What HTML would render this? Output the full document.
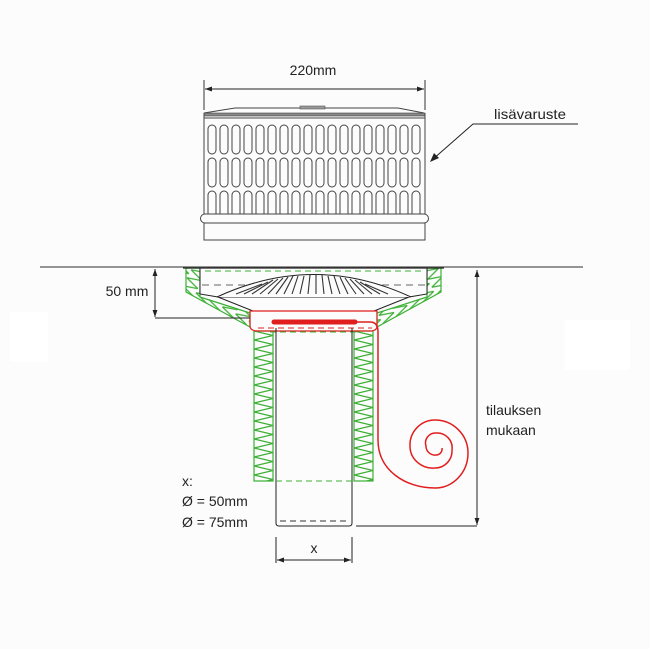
<!DOCTYPE html>
<html><head><meta charset="utf-8"><style>
html,body{margin:0;padding:0;background:#fcfcfd;}
svg{display:block;font-family:"Liberation Sans",sans-serif;}
</style></head><body>
<svg width="650" height="649" viewBox="0 0 650 649" xmlns="http://www.w3.org/2000/svg">
<defs>
<marker id="ar" viewBox="0 0 10 10" refX="10" refY="5" markerWidth="7" markerHeight="7" orient="auto-start-reverse"><path d="M0,1.5 L10,5 L0,8.5 z" fill="#222"/></marker>
<pattern id="zl" patternUnits="userSpaceOnUse" x="254" y="331" width="19" height="9"><path d="M0,0 L19,4.5 L0,9" fill="none" stroke="#3cb034" stroke-width="1.3"/></pattern>
<pattern id="zr" patternUnits="userSpaceOnUse" x="354" y="331" width="19" height="9"><path d="M0,0 L19,4.5 L0,9" fill="none" stroke="#3cb034" stroke-width="1.3"/></pattern>
<pattern id="zs1" patternUnits="userSpaceOnUse" x="0" y="0" width="15" height="9" patternTransform="rotate(28 186 292)"><path d="M0,0 L15,4.5 L0,9" fill="none" stroke="#3cb034" stroke-width="1.3"/></pattern>
<pattern id="zs2" patternUnits="userSpaceOnUse" x="0" y="0" width="15" height="9" patternTransform="rotate(-28 441 292)"><path d="M15,0 L0,4.5 L15,9" fill="none" stroke="#3cb034" stroke-width="1.3"/></pattern>
</defs>
<rect x="0" y="0" width="650" height="649" fill="#fcfcfd"/>
<rect x="10" y="312" width="38" height="50" fill="#ffffff"/>
<rect x="565" y="320" width="65" height="50" fill="#ffffff"/>

<text x="313" y="75" font-size="14" text-anchor="middle" fill="#222">220mm</text>
<line x1="204" y1="80" x2="204" y2="110" stroke="#333"/>
<line x1="425" y1="80" x2="425" y2="110" stroke="#333"/>
<line x1="205" y1="89" x2="424" y2="89" stroke="#222" marker-start="url(#ar)" marker-end="url(#ar)"/>

<path d="M204,113 L235,108 L398,108 L424,113" fill="none" stroke="#444"/>
<rect x="300" y="106" width="25" height="3" fill="#999" stroke="#555" stroke-width="0.6"/>
<rect x="204" y="113" width="221" height="3" fill="#888" stroke="#444" stroke-width="0.6"/>
<line x1="204" y1="118" x2="425" y2="118" stroke="#444"/>
<line x1="204" y1="113" x2="204" y2="240" stroke="#444"/>
<line x1="425" y1="113" x2="425" y2="240" stroke="#444"/>
<g fill="none" stroke="#444" stroke-width="1">
<g id="col">
<rect x="208" y="125" width="8" height="29" rx="4"/>
<rect x="208" y="158" width="8" height="29" rx="4"/>
<rect x="208" y="191" width="8" height="29" rx="4"/>
</g>
<use href="#col" x="12"/><use href="#col" x="24"/><use href="#col" x="36"/><use href="#col" x="48"/><use href="#col" x="60"/><use href="#col" x="72"/><use href="#col" x="84"/><use href="#col" x="96"/><use href="#col" x="108"/><use href="#col" x="120"/><use href="#col" x="132"/><use href="#col" x="144"/><use href="#col" x="156"/><use href="#col" x="168"/><use href="#col" x="180"/><use href="#col" x="192"/><use href="#col" x="204"/>
</g>
<path d="M205,214 L424,214 A4,4 0 0 1 424,223 L205,223 A4,4 0 0 1 205,214 z" fill="#fcfcfd" stroke="#444"/>
<rect x="204" y="223" width="221" height="17" fill="none" stroke="#444"/>

<text x="530" y="119" font-size="14" text-anchor="middle" fill="#222" textLength="72" lengthAdjust="spacingAndGlyphs">lisävaruste</text>
<polyline points="578,124 473,124 432,160" fill="none" stroke="#222"/>
<path d="M430,162 L434,153 L439,158 z" fill="#222"/>

<line x1="40" y1="267" x2="583" y2="267" stroke="#555" stroke-width="1.2"/>

<polygon points="186,268 200,268 200,297 250,313 250,327 186,292" fill="url(#zs1)" stroke="#3cb034" stroke-width="1.2"/>
<polygon points="441,268 427,268 427,297 377,313 377,327 441,292" fill="url(#zs2)" stroke="#3cb034" stroke-width="1.2"/>
<rect x="254" y="331" width="19" height="150" fill="url(#zl)" stroke="#3cb034" stroke-width="1.2"/>
<rect x="354" y="331" width="19" height="150" fill="url(#zr)" stroke="#3cb034" stroke-width="1.2"/>

<polyline points="200,268 200,294 218,297 253,311 374,311 409,297 427,294 427,268" fill="#fcfcfd" stroke="#222"/>
<line x1="183" y1="268" x2="444" y2="268" stroke="#222" stroke-width="1.3"/>
<line x1="205" y1="271" x2="423" y2="271" stroke="#3cb034" stroke-dasharray="6,4"/>
<line x1="218" y1="297" x2="409" y2="297" stroke="#222"/>
<line x1="202" y1="285" x2="425" y2="285" stroke="#333" stroke-dasharray="7,5" stroke-width="0.8"/>
<path d="M217,297 Q314,252 411,297" fill="#fcfcfd" stroke="#222"/>
<g stroke="#333" stroke-width="1.1">
<line x1="236" y1="294" x2="262" y2="284"/><line x1="244" y1="294" x2="268" y2="282"/><line x1="252" y1="294" x2="273" y2="280"/>
<line x1="260" y1="294" x2="278" y2="279"/><line x1="268" y1="294" x2="283" y2="278"/><line x1="276" y1="294" x2="288" y2="277"/>
<line x1="284" y1="294" x2="293" y2="276"/><line x1="292" y1="294" x2="298" y2="276"/><line x1="300" y1="294" x2="304" y2="276"/>
<line x1="308" y1="294" x2="310" y2="275"/><line x1="316" y1="294" x2="316" y2="275"/><line x1="324" y1="294" x2="322" y2="275"/>
<line x1="332" y1="294" x2="328" y2="276"/><line x1="340" y1="294" x2="334" y2="276"/><line x1="348" y1="294" x2="340" y2="277"/>
<line x1="356" y1="294" x2="345" y2="278"/><line x1="364" y1="294" x2="350" y2="279"/><line x1="372" y1="294" x2="355" y2="280"/>
<line x1="380" y1="294" x2="360" y2="282"/><line x1="388" y1="294" x2="365" y2="284"/>
</g>
<path d="M250,311 L377,311 L377,326 Q377,331 370,331 L258,331 Q250,331 250,326 z" fill="none" stroke="#e01e1e" stroke-width="1.2"/>
<line x1="274" y1="322" x2="355" y2="322" stroke="#e01e1e" stroke-width="5" stroke-linecap="round"/>
<line x1="258" y1="328" x2="372" y2="328" stroke="#e01e1e" stroke-dasharray="6,4"/>
<line x1="270" y1="332" x2="360" y2="332" stroke="#3cb034" stroke-dasharray="6,4"/>

<line x1="155" y1="269" x2="155" y2="317" stroke="#222" marker-start="url(#ar)" marker-end="url(#ar)"/>
<line x1="155" y1="318" x2="250" y2="318" stroke="#222"/>
<text x="127" y="296" font-size="14" text-anchor="middle" fill="#222">50 mm</text>

<path d="M276,328 L276,523 Q276,526 279,526 L349,526 Q352,526 352,523 L352,328" fill="none" stroke="#222"/>
<line x1="280" y1="521" x2="349" y2="521" stroke="#333" stroke-dasharray="6,4"/>
<line x1="256" y1="481" x2="372" y2="481" stroke="#3cb034" stroke-dasharray="6,4"/>

<path d="M356,322 L370,322 Q378,322 378,332 L378,440 C378,470 405,488 435,488 A33,35 0 0 0 468,453 A33,33 0 0 0 435,420 A25,25 0 0 0 410,446 A23,22 0 0 0 435,468 A17,17 0 0 0 452,450 A15,15 0 0 0 436,433 A10,10 0 0 0 426,446 A9,9 0 0 0 436,455 A6,6 0 0 0 442,448" fill="none" stroke="#e01e1e" stroke-width="1.5"/>

<line x1="477" y1="270" x2="477" y2="525" stroke="#222" marker-start="url(#ar)" marker-end="url(#ar)"/>
<line x1="356" y1="526" x2="477" y2="526" stroke="#222"/>
<text x="486" y="415" font-size="14" fill="#222">tilauksen</text>
<text x="486" y="435" font-size="14" fill="#222">mukaan</text>

<line x1="276" y1="537" x2="276" y2="563" stroke="#222"/>
<line x1="352" y1="537" x2="352" y2="563" stroke="#222"/>
<line x1="277" y1="560" x2="351" y2="560" stroke="#222" marker-start="url(#ar)" marker-end="url(#ar)"/>
<text x="314" y="553" font-size="14" text-anchor="middle" fill="#222">x</text>
<text x="182" y="486" font-size="14" fill="#222">x:</text>
<text x="182" y="506" font-size="14" fill="#222">Ø = 50mm</text>
<text x="182" y="527" font-size="14" fill="#222">Ø = 75mm</text>
</svg>
</body></html>
